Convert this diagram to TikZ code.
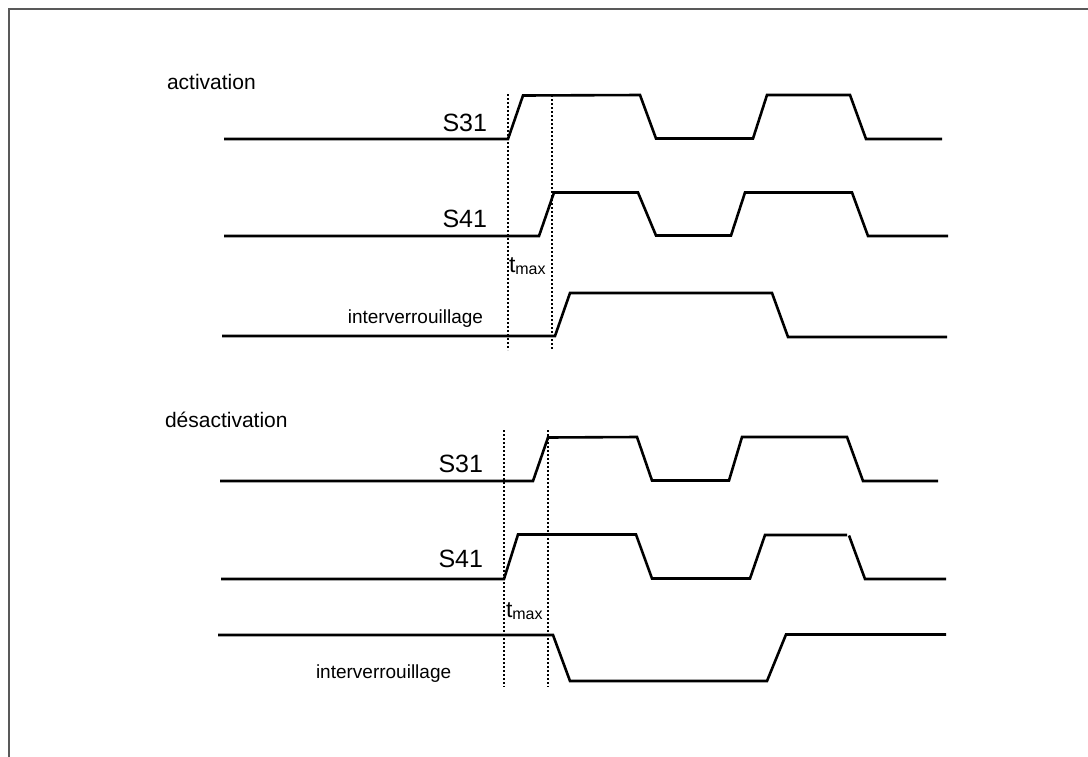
\documentclass[tikz,border=0pt]{standalone}
\usepackage{fontspec}
\setmainfont{Liberation Sans}
\begin{document}
\begin{tikzpicture}[x=1pt,y=-1pt,
  sig/.style={line width=2.6pt, line join=miter, black},
  tline/.style={line width=2.8pt, dash pattern=on 2.4pt off 1.6pt, black},
  frame/.style={line width=2pt, black!65},
  lab/.style={inner sep=0pt, outer sep=0pt, font=\fontsize{25}{28}\selectfont},
  title/.style={inner sep=0pt, outer sep=0pt, font=\fontsize{21}{24}\selectfont},
  small/.style={inner sep=0pt, outer sep=0pt, font=\fontsize{19}{22}\selectfont},
  tm/.style={inner sep=0pt, outer sep=0pt, font=\fontsize{23}{25}\selectfont}]
\useasboundingbox (0,0) rectangle (1088,756);
% frame (left and top edges)
\draw[frame] (1090,8.5) -- (8.5,8.5) -- (8.5,758);

% ---------- activation ----------
\node[title, anchor=base west] (tact) at (167,89) {activation};
\node[lab, anchor=base east] (as31) at (487,131) {S31};
\node[lab, anchor=base east] (as41) at (487,227) {S41};
\node[small, anchor=base east] (aint) at (483,323) {interverrouillage};
\node[tm, anchor=base west] (atmax) at (509,272) {t{\fontsize{16}{16}\selectfont\raisebox{-2.5pt}{max}}};

\draw[sig] (224,139) -- (508,139) -- (523,95.5) -- (640,95) -- (656,138.5) -- (753,138.5) -- (767,95) -- (850,95) -- (866,139) -- (942,139);
\draw[sig] (224,236) -- (539,236) -- (554,192.5) -- (638,192.5) -- (656,235.5) -- (731,235.5) -- (745,192.5) -- (852,192.5) -- (868,236) -- (948,236);
\draw[sig] (222,336) -- (555,336) -- (570,293) -- (772,293) -- (788,337) -- (947,337);

\draw[tline] (508,94) -- (508,350);
\draw[tline] (552,95) -- (552,350);

% ---------- desactivation ----------
\node[title, anchor=base west] (tdes) at (165,427) {désactivation};
\node[lab, anchor=base east] (ds31) at (483,472) {S31};
\node[lab, anchor=base east] (ds41) at (483,567) {S41};
\node[small, anchor=base west] (dint) at (316,678) {interverrouillage};
\node[tm, anchor=base west] (dtmax) at (506,617) {t{\fontsize{16}{16}\selectfont\raisebox{-2.5pt}{max}}};

\draw[sig] (220,481) -- (533,481) -- (548,437.5) -- (637,437) -- (652,480.5) -- (729,480.5) -- (742,437) -- (847,437) -- (863,481) -- (938,481);
\draw[sig] (221,579) -- (504,579) -- (518,534.5) -- (636,534.5) -- (652,578.5) -- (750,578.5) -- (765,535) -- (847,535);
\draw[sig] (849,535.5) -- (865,579) -- (946,579);
\draw[sig] (218,635) -- (553,635) -- (570,681) -- (767,681) -- (786,634.5) -- (946,634.5);

\draw[tline] (504,430) -- (504,687);
\draw[tline] (548,430) -- (548,687);
\end{tikzpicture}
\end{document}
